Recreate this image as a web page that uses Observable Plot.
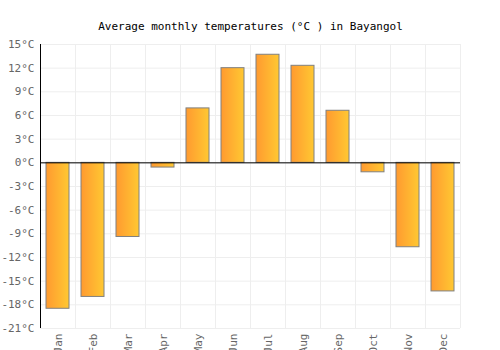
<!DOCTYPE html>
<html>
<head>
<meta charset="utf-8">
<script src="https://cdn.jsdelivr.net/npm/d3@7"></script>
<script src="https://cdn.jsdelivr.net/npm/@observablehq/plot@0.6"></script>
<style>
  html, body { margin: 0; padding: 0; background: #fff; }
</style>
</head>
<body>
<div id="chart"></div>
<script>
const title = "Average monthly temperatures (°C ) in Bayangol";
const months = ["Jan","Feb","Mar","Apr","May","Jun","Jul","Aug","Sep","Oct","Nov","Dec"];
const temps = [-18.5, -17.0, -9.4, -0.6, 6.9, 12.0, 13.7, 12.3, 6.6, -1.2, -10.7, -16.3];
const yTicks = [-21, -18, -15, -12, -9, -6, -3, 0, 3, 6, 9, 12, 15];

const data = months.map((m, i) => ({month: m, temp: temps[i]}));

const W = 500, H = 350, ML = 40, MR = 40, MT = 44, MB = 22;
const step = (W - ML - MR) / months.length;

const svg = Plot.plot({
  width: W, height: H,
  marginLeft: ML, marginRight: MR, marginTop: MT, marginBottom: MB,
  style: {fontFamily: "DejaVu Sans Mono", fontSize: "11px", background: "white", color: "#666"},
  x: {domain: months, paddingInner: 0.343, paddingOuter: 0.1715, label: null, tickSize: 0, tickPadding: 5, tickRotate: -90},
  y: {domain: [-21, 15], ticks: yTicks, tickFormat: d => `${d}°C`, label: null, tickSize: 0, tickPadding: 6},
  marks: [
    Plot.ruleY(yTicks, {stroke: "#eee", strokeWidth: 1}),
    Plot.ruleX(months, {dx: -step / 2, stroke: "#eee", strokeWidth: 1}),
    Plot.ruleX([months[months.length - 1]], {dx: step / 2, stroke: "#eee", strokeWidth: 1}),
    Plot.barY(data, {x: "month", y: "temp", fill: "url(#barGrad)", stroke: "#808080", strokeWidth: 1}),
    Plot.ruleY([0], {stroke: "black", strokeWidth: 1}),
    Plot.ruleX([months[0]], {dx: -step / 2, stroke: "black", strokeWidth: 1}),
    Plot.text([title], {frameAnchor: "top", dy: -22, fill: "black", fontSize: 11})
  ]
});

const defs = d3.select(svg).insert("defs", ":first-child");
const g = defs.append("linearGradient").attr("id", "barGrad").attr("x1", "0").attr("x2", "1").attr("y1", "0").attr("y2", "0");
g.append("stop").attr("offset", "0%").attr("stop-color", "#FF9A30");
g.append("stop").attr("offset", "100%").attr("stop-color", "#FFC832");

document.getElementById("chart").appendChild(svg);
</script>
</body>
</html>
